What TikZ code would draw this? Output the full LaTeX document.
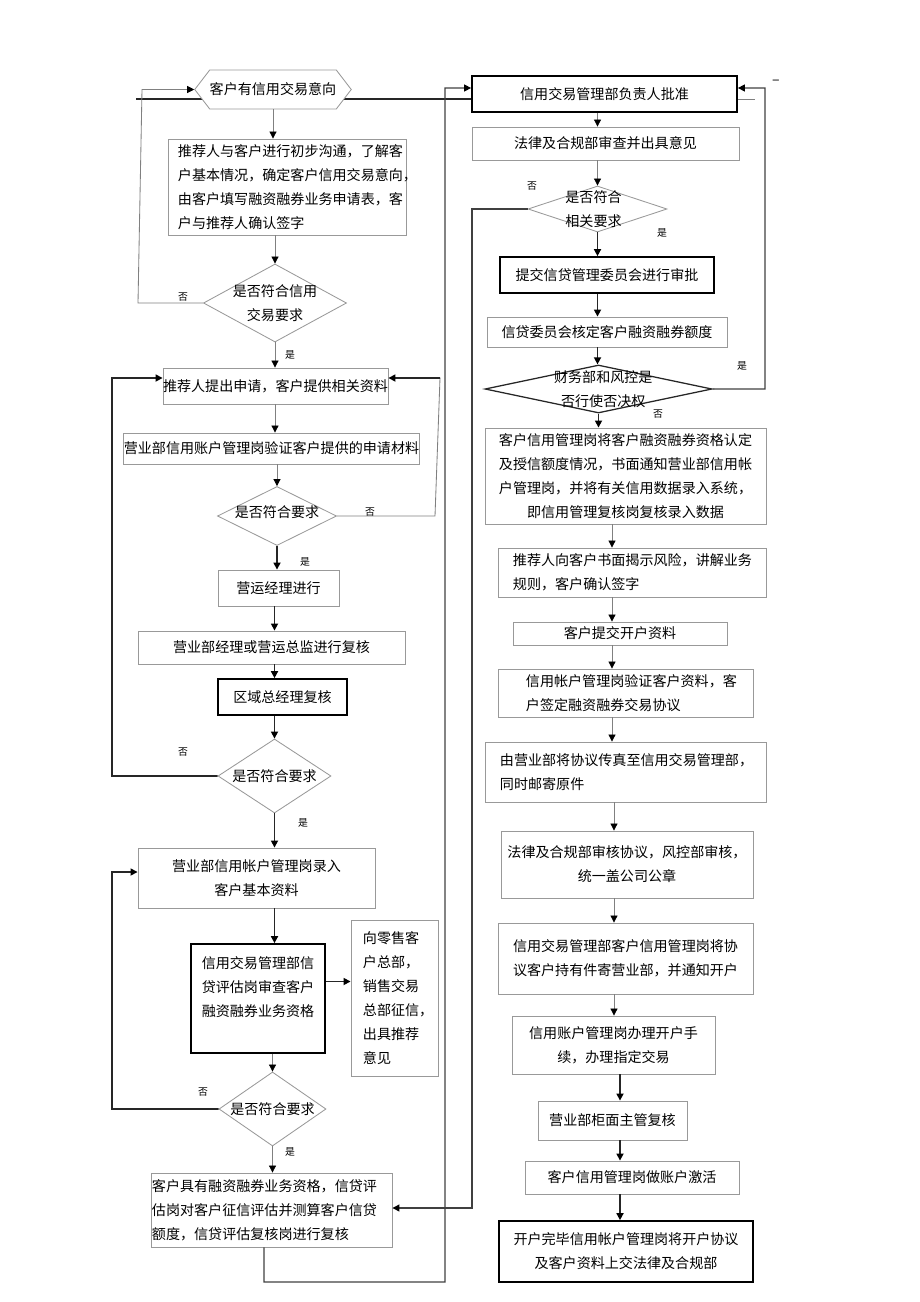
\documentclass[tikz,border=0pt]{standalone}
\usepackage{fontspec}
\setmainfont{Noto Sans CJK SC}
\usepackage{tikz}
\usetikzlibrary{arrows.meta}
\usetikzlibrary{shapes,arrows,positioning}
\tikzset{>={Triangle[length=5pt,width=5pt,color=black]}}
\tikzset{credit-line/.style={->, draw=black!50, line width=0.6pt}}
\tikzset{credit-line-mid/.style={->, draw=black!75, line width=0.9pt}}
\tikzset{credit-line-thick/.style={->, draw=black!85, line width=1.1pt}}
\tikzset{credit-text/.style={font=\fontsize{10pt}{17pt}\selectfont, align=center, inner sep=0}}
\tikzset{credit-box/.style={credit-text, draw=black!40, fill=white, line width=0.6pt}}
\tikzset{credit-box-thick/.style={credit-text, draw=black, fill=white, line width=1.2pt}}
\tikzset{credit-decision/.style={diamond, draw=black!40, fill=white, line width=0.6pt, inner sep=0}}
\tikzset{credit-start/.style={signal, signal to=east and west, signal pointer angle=105, credit-text, draw=black!40, fill=white, line width=0.6pt, minimum width=3.9cm, minimum height=0.975cm}}
\tikzset{credit-mark/.style={font=\fontsize{7pt}{8pt}\selectfont, inner sep=0}}

\begin{document}
\begin{tikzpicture}[x=0.025cm, y=-0.025cm]
            \useasboundingbox (0,0) rectangle (920,1302);

            \coordinate (topW) at (136,99);
            \coordinate (topM) at (472,99);
            \coordinate (topR) at (737,99);
            \coordinate (topE) at (755,99);
            \draw[credit-line-thick, -] (topW) -- (topM);
            \draw[credit-line, -] (topR) -- (topE);

            \node[credit-start] (start) at (273,89.5) {客户有信用交易意向};
            \node[credit-box, minimum width=5.95cm, minimum height=2.4cm, text width=5.45cm, align=left] (apply) at (287,187) {推荐人与客户进行初步沟通，了解客\\户基本情况，确定客户信用交易意向，\\由客户填写融资融券业务申请表，客\\户与推荐人确认签字};
            \node[credit-decision, minimum width=3.575cm, minimum height=1.95cm, label={[credit-text]center:{是否符合信用\\交易要求}}] (check1) at (275,303) {};
            \node[credit-box, minimum width=5.575cm, minimum height=0.9cm] (submit) at (275.5,386) {推荐人提出申请，客户提供相关资料};
            \node[credit-box, minimum width=7.375cm, minimum height=0.775cm] (verify) at (271.5,448.5) {营业部信用账户管理岗验证客户提供的申请材料};
            \node[credit-decision, minimum width=2.975cm, minimum height=1.475cm, label={[credit-text, yshift=0.1cm]center:{是否符合要求}}] (check2) at (277,516) {};
            \node[credit-box, minimum width=3.025cm, minimum height=0.9cm] (ops) at (278.5,588) {营运经理进行};
            \node[credit-box, minimum width=6.675cm, minimum height=0.825cm] (review) at (271.5,647.5) {营业部经理或营运总监进行复核};
            \node[credit-box-thick, minimum width=3.225cm, minimum height=0.9cm] (region) at (282.5,697) {区域总经理复核};
            \node[credit-decision, minimum width=2.825cm, minimum height=1.85cm, label={[credit-text]center:{是否符合要求}}] (check3) at (274.5,776) {};
            \node[credit-box, minimum width=5.925cm, minimum height=1.5cm] (entry) at (256.5,878) {营业部信用帐户管理岗录入\\客户基本资料};
            \node[credit-box-thick, minimum width=3.35cm, minimum height=2.725cm] (assess) at (258,998.5) {信用交易管理部信\\贷评估岗审查客户\\融资融券业务资格\\~};
            \node[credit-box, minimum width=2.175cm, minimum height=3.9cm, text width=1.575cm, align=left] (retail) at (394.5,998) {向零售客\\户总部，\\销售交易\\总部征信，\\出具推荐\\意见};
            \node[credit-decision, minimum width=2.675cm, minimum height=1.85cm, label={[credit-text]center:{是否符合要求}}] (check4) at (272.5,1109) {};
            \node[credit-box, minimum width=6.025cm, minimum height=1.85cm, text width=5.975cm, align=left] (quota) at (271.5,1210) {客户具有融资融券业务资格，信贷评\\估岗对客户征信评估并测算客户信贷\\额度，信贷评估复核岗进行复核};

            \node[credit-box-thick, minimum width=6.625cm, minimum height=0.9cm] (approve) at (604.5,94) {信用交易管理部负责人批准};
            \node[credit-box, minimum width=6.675cm, minimum height=0.825cm] (legal) at (605.5,143.5) {法律及合规部审查并出具意见};
            \node[credit-decision, minimum width=3.475cm, minimum height=1.15cm, label={[credit-text, xshift=-0.1cm]center:{是否符合\\相关要求}}] (check5) at (597.5,209) {};
            \node[credit-box-thick, minimum width=5.35cm, minimum height=0.9cm] (committee) at (607,275) {提交信贷管理委员会进行审批};
            \node[credit-box, minimum width=6cm, minimum height=0.75cm] (limit) at (607,332) {信贷委员会核定客户融资融券额度};
            \node[credit-decision, draw=black!85, line width=0.9pt, minimum width=5.675cm, minimum height=1.2cm, label={[credit-text, xshift=0.12cm]center:{财务部和风控是\\否行使否决权}}] (veto) at (598.5,389) {};
            \node[credit-box, minimum width=7.025cm, minimum height=2.4cm] (notify) at (625.5,476) {客户信用管理岗将客户融资融券资格认定\\及授信额度情况，书面通知营业部信用帐\\户管理岗，并将有关信用数据录入系统，\\即信用管理复核岗复核录入数据};
            \node[credit-box, minimum width=6.7cm, minimum height=1.225cm, text width=5.95cm, align=left] (risk) at (632,572.5) {推荐人向客户书面揭示风险，讲解业务\\规则，客户确认签字};
            \node[credit-box, minimum width=5.35cm, minimum height=0.575cm] (docs) at (620,633.5) {客户提交开户资料};
            \node[credit-box, minimum width=6.375cm, minimum height=1.2cm, text width=4.975cm, align=left] (sign) at (625.5,693) {信用帐户管理岗验证客户资料，客\\户签定融资融券交易协议};
            \node[credit-box, minimum width=7.025cm, minimum height=1.5cm, text width=6.275cm, align=left] (fax) at (625.5,772) {由营业部将协议传真至信用交易管理部，\\同时邮寄原件};
            \node[credit-box, minimum width=6.3cm, minimum height=1.675cm] (seal) at (627,864.5) {法律及合规部审核协议，风控部审核，\\统一盖公司公章};
            \node[credit-box, minimum width=6.375cm, minimum height=1.775cm] (mail) at (625.5,958.5) {信用交易管理部客户信用管理岗将协\\议客户持有件寄营业部，并通知开户};
            \node[credit-box, minimum width=5.075cm, minimum height=1.45cm] (open) at (613.5,1045) {信用账户管理岗办理开户手\\续，办理指定交易};
            \node[credit-box, minimum width=3.725cm, minimum height=0.975cm] (counter) at (612.5,1120.5) {营业部柜面主管复核};
            \node[credit-box, minimum width=5.35cm, minimum height=0.825cm] (activate) at (632,1177.5) {客户信用管理岗做账户激活};
            \node[credit-box-thick, minimum width=6.35cm, minimum height=1.525cm] (archive) at (626,1251.5) {开户完毕信用帐户管理岗将开户协议\\及客户资料上交法律及合规部};
            \node[credit-text] (dash) at (776,82) {–};

            \coordinate (loop1a) at (138,303);
            \coordinate (loop1b) at (142,89.5);
            \coordinate (loop2a) at (435,516);
            \coordinate (loop2b) at (440,378);
            \coordinate (loop3a) at (112,776);
            \coordinate (loop3b) at (112,378);
            \coordinate (loop4a) at (112,1109);
            \coordinate (loop4b) at (112,872);
            \coordinate (link1a) at (264,1282);
            \coordinate (link1b) at (445,1282);
            \coordinate (link1c) at (445,88);
            \coordinate (link2a) at (472,209);
            \coordinate (link2b) at (472,1208);
            \coordinate (link3a) at (765,389);
            \coordinate (link3b) at (765,88);
            \coordinate (colA) at (612,0);
            \coordinate (colB) at (614,0);
            \coordinate (colC) at (620,0);

            \draw[credit-line] (start.south) -- (start.south |- apply.north);
            \draw[credit-line] (check1.north |- apply.south) -- (check1.north);
            \draw[credit-line] (check1.west) -- (loop1a) -- (loop1b) -- (start.west);
            \draw[credit-line] (check1.south) -- (check1.south |- submit.north);
            \draw[credit-line] (check1 |- submit.south) -- (check1 |- verify.north);
            \draw[credit-line] (check2.north |- verify.south) -- (check2.north);
            \draw[credit-line, -] (check2.east) -- (loop2a) -- (loop2b);
            \draw[credit-line-thick] (loop2b) -- ([yshift=0.2cm]submit.east);
            \draw[credit-line-thick] (check2.south) -- (check2.south |- ops.north);
            \draw[credit-line-thick] (check3 |- ops.south) -- (check3 |- review.north);
            \draw[credit-line-thick] (check3 |- review.south) -- (check3 |- region.north);
            \draw[credit-line-thick] (check3 |- region.south) -- (check3.north);
            \draw[credit-line-thick] (check3.west) -- (loop3a) -- (loop3b) -- ([yshift=0.2cm]submit.west);
            \draw[credit-line-thick] (check3.south) -- (check3.south |- entry.north);
            \draw[credit-line-thick] (check3 |- entry.south) -- (check3 |- assess.north);
            \draw[credit-line-thick] ([yshift=0.425cm]assess.east) -- ([yshift=0.425cm]assess.east -| retail.west);
            \draw[credit-line] (check4.north |- assess.south) -- (check4.north);
            \draw[credit-line-thick] (check4.west) -- (loop4a) -- (loop4b) -- ([yshift=0.15cm]entry.west);
            \draw[credit-line] (check4.south) -- (check4.south |- quota.north);

            \draw[credit-line-mid] (link1a |- quota.south) -- (link1a) -- (link1b) -- (link1c) -- ([yshift=0.15cm]approve.west);
            \draw[credit-line-mid] (check5.west) -- (link2a) -- (link2b) -- (link2b -| quota.east);
            \draw[credit-line-mid] (veto.east) -- (link3a) -- (link3b) -- ([yshift=0.15cm]approve.east);

            \draw[credit-line] (check5 |- approve.south) -- (check5 |- legal.north);
            \draw[credit-line] (check5 |- legal.south) -- (check5.north);
            \draw[credit-line-thick] (check5.south) -- (check5 |- committee.north);
            \draw[credit-line-thick] (check5 |- committee.south) -- (check5 |- limit.north);
            \draw[credit-line-thick] (check5 |- limit.south) -- (check5 |- veto.north);
            \draw[credit-line-thick] (veto.south) -- (veto.south |- notify.north);
            \draw[credit-line] (colA |- notify.south) -- (colA |- risk.north);
            \draw[credit-line] (colA |- risk.south) -- (colA |- docs.north);
            \draw[credit-line] (colA |- docs.south) -- (colA |- sign.north);
            \draw[credit-line] (colA |- sign.south) -- (colA |- fax.north);
            \draw[credit-line] (colB |- fax.south) -- (colB |- seal.north);
            \draw[credit-line] (colB |- seal.south) -- (colB |- mail.north);
            \draw[credit-line] (colB |- mail.south) -- (colB |- open.north);
            \draw[credit-line-thick] (colC |- open.south) -- (colC |- counter.north);
            \draw[credit-line-thick] (colC |- counter.south) -- (colC |- activate.north);
            \draw[credit-line-thick] (colC |- activate.south) -- (colC |- archive.north);

            \node[credit-mark] (no1) at (183,297) {否};
            \node[credit-mark] (yes1) at (290,355) {是};
            \node[credit-mark] (no2) at (370,512) {否};
            \node[credit-mark] (yes2) at (305,562) {是};
            \node[credit-mark] (no3) at (183,752) {否};
            \node[credit-mark] (yes3) at (303,823) {是};
            \node[credit-mark] (no4) at (203,1092) {否};
            \node[credit-mark] (yes4) at (290,1152) {是};
            \node[credit-mark] (no5) at (532,186) {否};
            \node[credit-mark] (yes5) at (662,233) {是};
            \node[credit-mark] (yes6) at (742,366) {是};
            \node[credit-mark] (no6) at (658,414) {否};
        \end{tikzpicture}
\end{document}
